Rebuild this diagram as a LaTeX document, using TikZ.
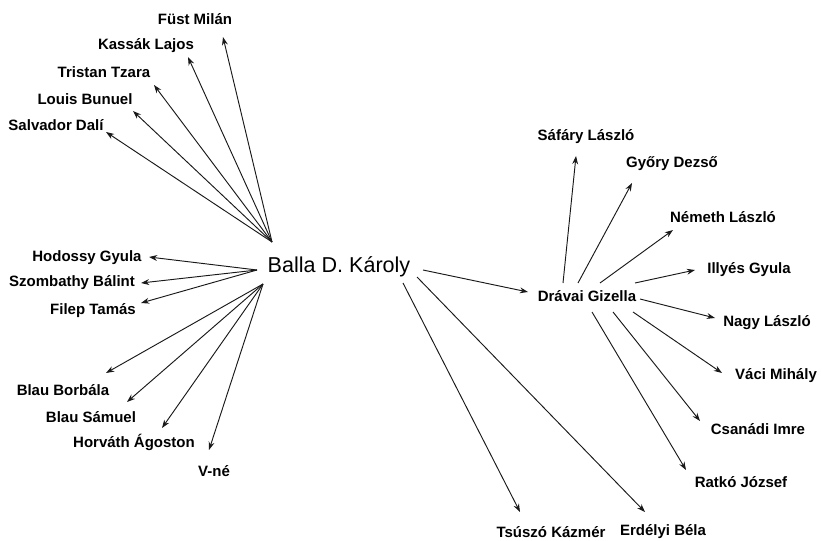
\documentclass[tikz,border=0pt]{standalone}
\usepackage{fontspec}
\setmainfont{Liberation Sans}
\usetikzlibrary{arrows.meta}

\tikzset{
  person/.style={font=\fontsize{12.8}{15}\selectfont\bfseries, inner sep=1pt},
  hub/.style={font=\fontsize{18.4}{22}\selectfont, inner sep=1pt},
  arr/.style={-{Stealth[length=7pt,width=5pt]}, line width=0.8pt, black!90}
}

\begin{document}
\begin{tikzpicture}[x=0.03cm,y=-0.03cm]
\useasboundingbox (0,0) rectangle (822,541);

% centre
\node[hub] (balla) at (339,267) {Balla D. Károly};
\node[person] (dravai) at (587,296) {Drávai Gizella};

% names round Balla
\node[person] (fust) at (195,19) {Füst Milán};
\node[person] (kassak) at (146,46) {Kassák Lajos};
\node[person] (tzara) at (104,72) {Tristan Tzara};
\node[person] (bunuel) at (85,99) {Louis Bunuel};
\node[person] (dali) at (56,125) {Salvador Dalí};
\node[person] (hodossy) at (87,258) {Hodossy Gyula};
\node[person] (szombathy) at (72,283) {Szombathy Bálint};
\node[person] (filep) at (93,311) {Filep Tamás};
\node[person] (borbala) at (63,390) {Blau Borbála};
\node[person] (samuel) at (91,417) {Blau Sámuel};
\node[person] (agoston) at (134,442) {Horváth Ágoston};
\node[person] (vne) at (214,471) {V-né};
\node[person] (tsuszo) at (551,532) {Tsúszó Kázmér};
\node[person] (erdelyi) at (663,532) {Erdélyi Béla};

% names round Drávai
\node[person] (safary) at (586,137) {Sáfáry László};
\node[person] (gyory) at (672,164) {Győry Dezső};
\node[person] (nemeth) at (723,217) {Németh László};
\node[person] (illyes) at (749,270) {Illyés Gyula};
\node[person] (nagy) at (767,323) {Nagy László};
\node[person] (vaci) at (776,376) {Váci Mihály};
\node[person] (csanadi) at (758,429) {Csanádi Imre};
\node[person] (ratko) at (741,482) {Ratkó József};

% start points
\coordinate (bU) at (272,242);
\coordinate (bL) at (257,270);
\coordinate (bD) at (263,284);
\coordinate (bR) at (423,270);
\coordinate (bR2) at (417,277);
\coordinate (bR3) at (403,283);
\coordinate (dU1) at (563,283);
\coordinate (dU2) at (578,283);
\coordinate (dU3) at (600,283);
\coordinate (dU4) at (635,283);
\coordinate (dR) at (640,299);
\coordinate (dD1) at (633,312);
\coordinate (dD2) at (613,312);
\coordinate (dD3) at (592,312);

% arrow tips
\coordinate (fustT) at (223,37);
\coordinate (kassakT) at (188,57);
\coordinate (tzaraT) at (154,85);
\coordinate (bunuelT) at (133,111);
\coordinate (daliT) at (106,132);
\coordinate (hodossyT) at (149,257);
\coordinate (szombathyT) at (141,283);
\coordinate (filepT) at (141,303);
\coordinate (borbalaT) at (106,373);
\coordinate (samuelT) at (127,402);
\coordinate (agostonT) at (162,428);
\coordinate (vneT) at (209,450);
\coordinate (dravaiT) at (528,292);
\coordinate (tsuszoT) at (520,512);
\coordinate (erdelyiT) at (645,512);
\coordinate (safaryT) at (576,156);
\coordinate (gyoryT) at (632,183);
\coordinate (nemethT) at (673,230);
\coordinate (illyesT) at (695,270);
\coordinate (nagyT) at (715,318);
\coordinate (vaciT) at (722,373);
\coordinate (csanadiT) at (700,421);
\coordinate (ratkoT) at (686,470);

\draw[arr] (bU) -- (fustT);
\draw[arr] (bU) -- (kassakT);
\draw[arr] (bU) -- (tzaraT);
\draw[arr] (bU) -- (bunuelT);
\draw[arr] (bU) -- (daliT);
\draw[arr] (bL) -- (hodossyT);
\draw[arr] (bL) -- (szombathyT);
\draw[arr] (bL) -- (filepT);
\draw[arr] (bD) -- (borbalaT);
\draw[arr] (bD) -- (samuelT);
\draw[arr] (bD) -- (agostonT);
\draw[arr] (bD) -- (vneT);
\draw[arr] (bR) -- (dravaiT);
\draw[arr] (bR3) -- (tsuszoT);
\draw[arr] (bR2) -- (erdelyiT);

\draw[arr] (dU1) -- (safaryT);
\draw[arr] (dU2) -- (gyoryT);
\draw[arr] (dU3) -- (nemethT);
\draw[arr] (dU4) -- (illyesT);
\draw[arr] (dR) -- (nagyT);
\draw[arr] (dD1) -- (vaciT);
\draw[arr] (dD2) -- (csanadiT);
\draw[arr] (dD3) -- (ratkoT);
\end{tikzpicture}
\end{document}
